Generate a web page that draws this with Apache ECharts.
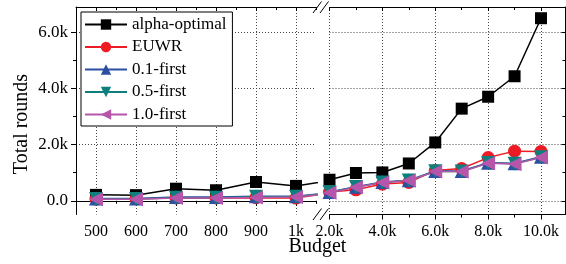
<!DOCTYPE html>
<html>
<head>
<meta charset="utf-8">
<script src="https://cdn.jsdelivr.net/npm/echarts@6/dist/echarts.min.js"></script>
<style>
html, body { margin: 0; padding: 0; background: #fff; }
#chart { width: 566px; height: 264px; }
</style>
</head>
<body>
<div id="chart"></div>
<script>
var lowBudgets = ["500", "600", "700", "800", "900", "1k"];
var highBudgets = [2000, 3000, 4000, 5000, 6000, 7000, 8000, 9000, 10000];
var highTicks = [2000, 4000, 6000, 8000, 10000];
var highMinorTicks = [3000, 5000, 7000, 9000];
var yTicks = [0, 2000, 4000, 6000];
var yMinorTicks = [1000, 3000, 5000];

// first 6 values belong to 500..1k, the other 9 to 2k..10k
var alphaOptimal = [210, 200, 430, 375, 670, 530, 750, 990, 1010, 1330, 2080, 3285, 3710, 4440, 6510];
var euwr = [60, 70, 100, 100, 110, 95, 310, 390, 595, 655, 1080, 1150, 1540, 1770, 1760];
var first01 = [80, 80, 130, 130, 160, 160, 310, 500, 670, 730, 1060, 1060, 1360, 1340, 1570];
var first05 = [60, 60, 110, 110, 140, 140, 300, 490, 655, 725, 1050, 1045, 1345, 1320, 1555];
var first10 = [50, 50, 100, 100, 120, 130, 290, 480, 650, 720, 1040, 1040, 1335, 1310, 1545];

var FONT = "Liberation Serif";
var Y_MIN = -490, Y_MAX = 6910;

var chart = echarts.init(document.getElementById("chart"), null, { renderer: "canvas" });

var black = { color: "#000", width: 1 };
var gridDots = { show: true, lineStyle: { color: "#444", type: [1, 2], width: 1 } };

function kLabel(v) {
  return v === 0 ? "0.0" : (v / 1000).toFixed(1) + "k";
}

function catAxis(position, aligned, len, inside, main) {
  return {
    type: "category",
    gridIndex: 0,
    position: position,
    data: lowBudgets.concat([""]),
    max: 5,
    boundaryGap: true,
    axisLine: { show: main, lineStyle: black },
    axisTick: { show: true, alignWithLabel: aligned, length: len, inside: inside, lineStyle: black },
    axisLabel: {
      show: main && position === "bottom",
      margin: 9,
      color: "#000",
      fontFamily: FONT,
      fontSize: 16,
    },
    splitLine: main && position === "bottom"
      ? { show: true, alignWithLabel: true, lineStyle: gridDots.lineStyle }
      : { show: false },
  };
}

function valAxis(dim, grid, position, ticks, len, inside, main, labels) {
  var ax = {
    type: "value",
    gridIndex: grid,
    position: position,
    axisLine: { show: main, onZero: false, lineStyle: black },
    axisTick: { show: true, length: len, inside: inside, customValues: ticks, lineStyle: black },
    axisLabel: {
      show: labels,
      customValues: ticks,
      formatter: kLabel,
      margin: dim === "x" ? 9 : 8,
      color: "#000",
      fontFamily: FONT,
      fontSize: dim === "x" ? 16 : 17,
    },
    splitLine: main && labels ? gridDots : { show: false },
  };
  if (dim === "x") {
    ax.min = 2000;
    ax.max = 10926;
  } else {
    ax.min = Y_MIN;
    ax.max = Y_MAX;
  }
  return ax;
}

var xAxes = [
  catAxis("bottom", true, 5, false, true),   // 0
  catAxis("bottom", false, 3, false, false), // 1 minor
  catAxis("top", true, 4, true, true),       // 2
  catAxis("top", false, 3, true, false),     // 3 minor
  valAxis("x", 1, "bottom", highTicks, 5, false, true, true),        // 4
  valAxis("x", 1, "bottom", highMinorTicks, 3, false, false, false), // 5
  valAxis("x", 1, "top", highTicks, 4, true, true, false),           // 6
  valAxis("x", 1, "top", highMinorTicks, 3, true, false, false),     // 7
];

var yAxes = [
  valAxis("y", 0, "left", yTicks, 5, false, true, true),        // 0
  valAxis("y", 0, "left", yMinorTicks, 3, false, false, false), // 1
  valAxis("y", 1, "right", yTicks, 4, true, true, false),       // 2
  valAxis("y", 1, "right", yMinorTicks, 3, true, false, false), // 3
];
yAxes[2].splitLine = gridDots;

var styles = [
  { name: "alpha-optimal", values: alphaOptimal, color: "#000", symbol: "rect", size: 12, rotate: 0 },
  { name: "EUWR", values: euwr, color: "#ed1c24", symbol: "circle", size: 13, rotate: 0 },
  { name: "0.1-first", values: first01, color: "#2c4fa3", symbol: "triangle", size: 14, rotate: 0 },
  { name: "0.5-first", values: first05, color: "#0f7f7e", symbol: "triangle", size: 14, rotate: 180 },
  { name: "1.0-first", values: first10, color: "#b556ab", symbol: "triangle", size: 14, rotate: 90 },
];

var series = [];
styles.forEach(function (s) {
  var common = {
    name: s.name,
    type: "line",
    symbol: s.symbol,
    symbolSize: s.size,
    symbolRotate: s.rotate,
    showAllSymbol: true,
    color: s.color,
    itemStyle: { color: s.color },
    lineStyle: { color: s.color, width: 1.5 },
    animation: false,
  };
  // left part: includes the 2k point so the line runs into the break and gets clipped
  series.push(Object.assign({}, common, {
    xAxisIndex: 0,
    yAxisIndex: 0,
    clip: true,
    data: s.values.slice(0, 7),
  }));
  series.push(Object.assign({}, common, {
    xAxisIndex: 4,
    yAxisIndex: 2,
    clip: false,
    data: highBudgets.map(function (b, i) { return [b, s.values[6 + i]]; }),
  }));
});

function slash(x1, y1, x2, y2) {
  return { type: "line", shape: { x1: x1, y1: y1, x2: x2, y2: y2 }, style: { stroke: "#000", lineWidth: 1 }, z: 100 };
}

var option = {
  animation: false,
  grid: [
    { left: 76, top: 7, width: 240, height: 207.5 },
    { left: 329.5, top: 7, width: 236, height: 207.5 },
  ],
  xAxis: xAxes,
  yAxis: yAxes,
  legend: {
    orient: "vertical",
    left: 81,
    top: 12,
    data: styles.map(function (s) { return s.name; }),
    itemWidth: 42,
    itemHeight: 13,
    itemGap: 5.5,
    padding: [4, 6, 3, 3],
    backgroundColor: "#fff",
    borderColor: "#000",
    borderWidth: 1,
    borderRadius: 0,
    textStyle: { color: "#000", fontFamily: FONT, fontSize: 17 },
  },
  graphic: [
    slash(313, 13, 321.5, 1.5),
    slash(320, 13, 328.5, 1.5),
    slash(313, 220, 321.5, 208.5),
    slash(320, 220, 328.5, 208.5),
    {
      type: "text",
      x: 317.5,
      y: 247,
      style: { text: "Budget", fontFamily: FONT, fontSize: 20, fill: "#000", align: "center", verticalAlign: "middle" },
    },
    {
      type: "text",
      x: 22,
      y: 124,
      rotation: Math.PI / 2,
      style: { text: "Total rounds", fontFamily: FONT, fontSize: 20, fill: "#000", align: "center", verticalAlign: "middle" },
    },
  ],
  series: series,
};

chart.setOption(option);
</script>
</body>
</html>
